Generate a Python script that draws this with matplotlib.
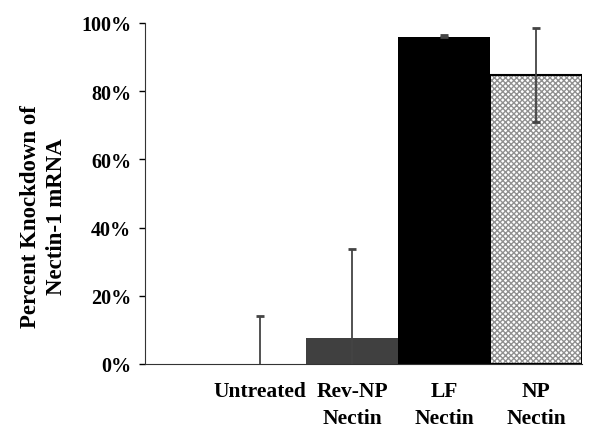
import matplotlib.pyplot as plt
import numpy as np

categories = ["Untreated", "Rev-NP\nNectin", "LF\nNectin", "NP\nNectin"]
values = [0, 7.6, 95.8, 84.7]
errors = [14, 26, 0.8, 13.8]
colors = ["white", "#404040", "black", "white"]

plt.rcParams['font.family'] = ['Liberation Serif', 'DejaVu Serif']
plt.rcParams['font.weight'] = 'bold'

fig = plt.figure(figsize=(6, 4.35), dpi=100)
ax = fig.add_axes([0.242, 0.161, 0.728, 0.784])

x = np.arange(len(categories))
ax.bar(x[:3], values[:3], width=1.0, color=colors[:3], edgecolor="none", zorder=2)
# hatched NP bar
ax.bar(x[3], values[3], width=1.0, color="white", edgecolor="#909090",
       hatch="xxxxxx", linewidth=0, zorder=2)
ax.bar(x[3], values[3], width=1.0, fill=False, edgecolor="black", linewidth=1.5, zorder=3)

lower = [errors[0], errors[1], 0, errors[3]]
ax.errorbar(x, values, yerr=[lower, errors], fmt="none",
            ecolor="#444444", elinewidth=1.3, capsize=3, capthick=2, zorder=4)

ax.set_xlim(-1.25, 3.5)
ax.set_ylim(0, 100)
ax.set_yticks([0, 20, 40, 60, 80, 100])
ax.set_yticklabels(["0%", "20%", "40%", "60%", "80%", "100%"], fontsize=14.5, fontweight='bold')
ax.set_xticks(x)
ax.set_xticklabels(categories, fontsize=15.5, fontweight='bold', linespacing=1.5, va='top')
ax.tick_params(axis='x', length=0, pad=12)
ax.tick_params(axis='y', length=4, width=1, pad=6)
ax.spines['top'].set_visible(False)
ax.spines['right'].set_visible(False)
ax.spines['left'].set_color("#333333")
ax.spines['bottom'].set_color("#333333")
ax.set_ylabel("Percent Knockdown of\nNectin-1 mRNA", fontsize=16.5, fontweight='bold', linespacing=1.3)
ax.yaxis.set_label_coords(-0.179, 0.435)

fig.savefig("out.png", dpi=100)
